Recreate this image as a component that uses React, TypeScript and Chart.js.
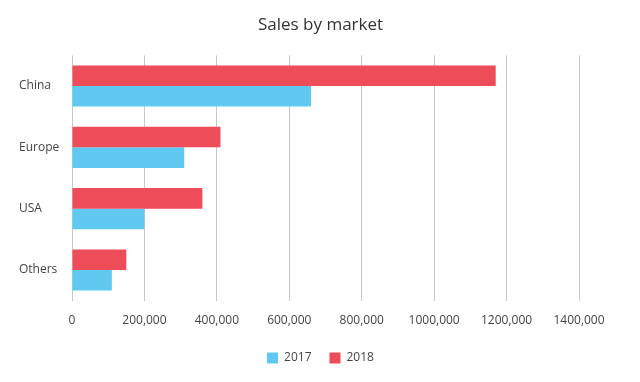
import React, { useEffect, useRef } from "react";
import { Chart, registerables } from "chart.js";

Chart.register(...registerables);

const categories = ["China", "Europe", "USA", "Others"];
const sales2017 = [660000, 310000, 200000, 110000];
const sales2018 = [1170000, 410000, 360000, 150000];
const xTickLabels = ["0", "200,000", "400,000", "600,000", "800,000", "1000,000", "1200,000", "1400,000"];

const FONT = "'Open Sans', Lato, sans-serif";

export default function App() {
  const ref = useRef<HTMLCanvasElement | null>(null);
  useEffect(() => {
    if (!ref.current) return;
    const chart = new Chart(ref.current, {
      type: "bar",
      data: {
        labels: categories,
        datasets: [
          {
            label: "2018",
            data: sales2018,
            backgroundColor: "rgb(239,76,90)",
            borderWidth: 0,
            categoryPercentage: 0.67,
            barPercentage: 1,
          },
          {
            label: "2017",
            data: sales2017,
            backgroundColor: "rgb(96,201,242)",
            borderWidth: 0,
            categoryPercentage: 0.67,
            barPercentage: 1,
          },
        ],
      },
      options: {
        indexAxis: "y",
        animation: false,
        responsive: true,
        maintainAspectRatio: false,
        layout: { padding: { left: 11, right: 10, top: 1, bottom: 0 } },
        plugins: {
          title: {
            display: true,
            text: "Sales by market",
            color: "#333",
            font: { family: FONT, size: 17, weight: "normal" },
            padding: { top: 6, bottom: 20 },
          },
          legend: {
            position: "bottom",
            reverse: true,
            labels: {
              color: "#444",
              font: { family: FONT, size: 12 },
              boxWidth: 11,
              boxHeight: 11,
              padding: 18,
            },
          },
          tooltip: { enabled: false },
        },
        scales: {
          x: {
            min: 0,
            max: 1400000,
            ticks: {
              stepSize: 200000,
              color: "#444",
              font: { family: FONT, size: 12 },
              padding: 13,
              maxRotation: 0,
              callback: (_v: any, i: number) => xTickLabels[i],
            },
            grid: { color: "#c8c8c8", lineWidth: 1, drawTicks: false },
            border: { display: false },
            afterFit: (scale: any) => {
              scale.height = scale.height - 7;
            },
          },
          y: {
            ticks: {
              color: "#444",
              font: { family: FONT, size: 12 },
              crossAlign: "far",
              padding: 0,
            },
            grid: { display: false, drawTicks: false },
            border: { display: false },
            afterFit: (scale: any) => {
              scale.width = 53;
            },
          },
          yRight: {
            type: "linear",
            position: "right",
            display: true,
            ticks: { display: false },
            grid: { display: false, drawTicks: false },
            border: { display: false },
            afterFit: (scale: any) => {
              scale.width = 43;
            },
          },
        },
      },
    });
    return () => chart.destroy();
  }, []);
  return (
    <div style={{ position: "relative", width: "624px", height: "366px" }}>
      <canvas ref={ref} />
    </div>
  );
}
